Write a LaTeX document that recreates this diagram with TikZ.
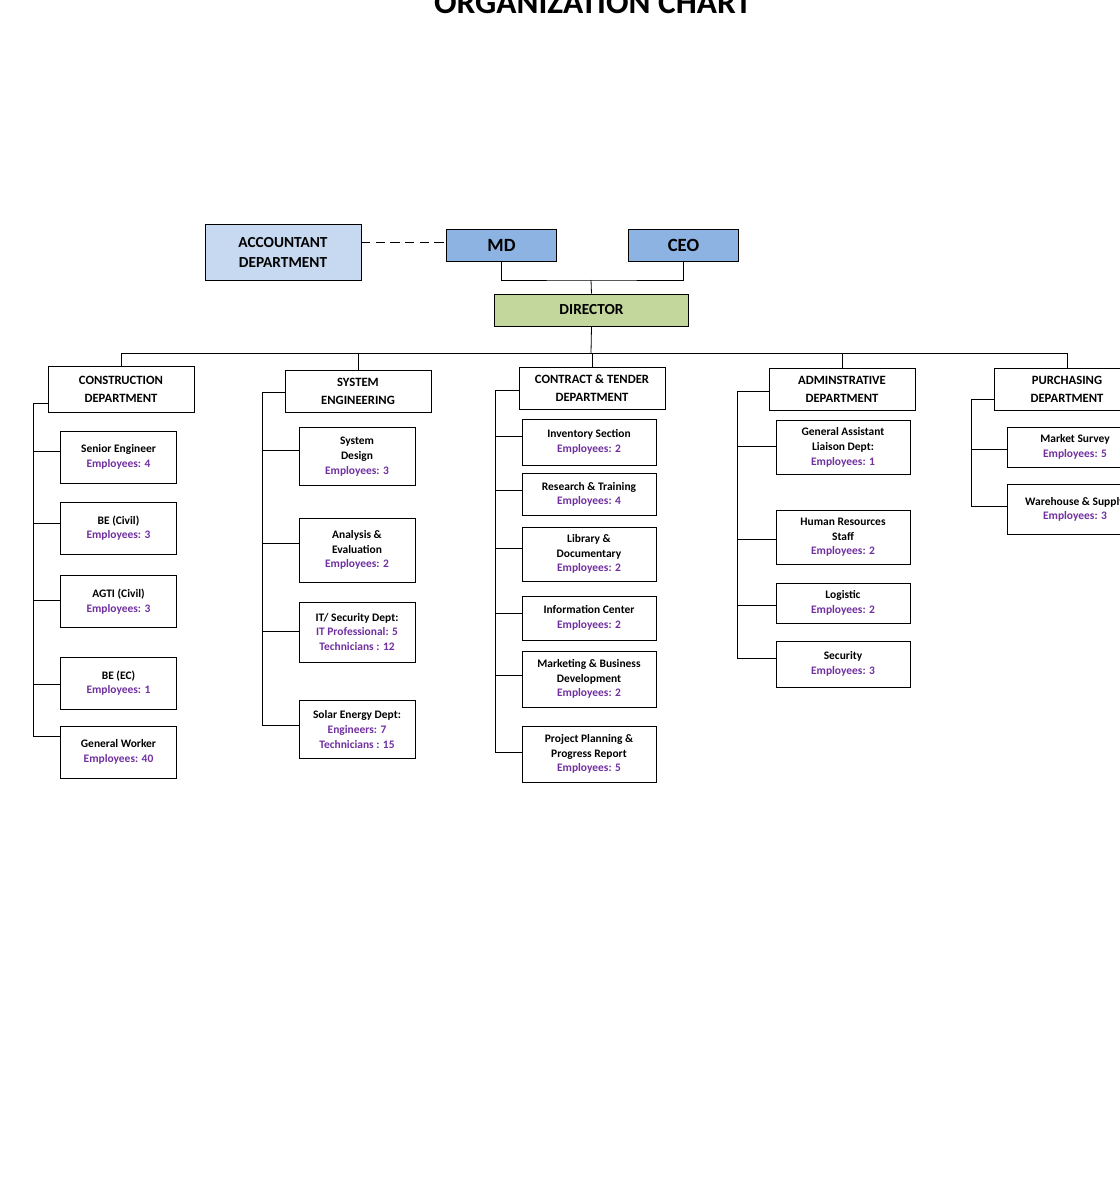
\documentclass[tikz,border=0pt]{standalone}
\usepackage{fontspec}
\setmainfont{Carlito}
\usepackage{tikz}
\usetikzlibrary{calc}
\definecolor{acc}{HTML}{C6D9F1}
\definecolor{top}{HTML}{8DB3E2}
\definecolor{dirc}{HTML}{C3D69B}
\definecolor{emp}{HTML}{7030A0}
\newcommand{\staff}[1]{\\\textcolor{emp}{#1}}
\tikzset{
  box/.style={draw, line width=0.6pt, align=center, inner sep=1pt},
  head/.style={box, font=\bfseries\fontsize{14}{15}\selectfont},
  dept/.style={box, minimum width=109.5pt, font=\bfseries\fontsize{9.5}{13.5}\selectfont},
  leaf/.style={box, font=\bfseries\fontsize{8.6}{11}\selectfont},
  link/.style={line width=0.6pt}
}
\begin{document}
\begin{tikzpicture}[x=0.75pt,y=-0.75pt]
        \useasboundingbox (0,0) rectangle (1120,1200);
        \node[anchor=base, font=\bfseries\fontsize{25}{25}\selectfont] (title) at (593,13) {ORGANIZATION CHART};
        % top level
        \node[head, fill=acc, minimum width=117pt, minimum height=42pt, font=\bfseries\fontsize{11.5}{15}\selectfont] (acc) at (283,252) {ACCOUNTANT\\DEPARTMENT};
        \node[head, fill=top, minimum width=82pt, minimum height=24pt] (md) at (501.5,245) {MD};
        \node[head, fill=top, minimum width=82pt, minimum height=24pt] (ceo) at (683.5,245) {CEO};
        \node[head, fill=dirc, minimum width=145pt, minimum height=24pt, font=\bfseries\fontsize{11.5}{13}\selectfont] (dir) at (591.5,310) {DIRECTOR};
        \coordinate (acclink) at (361,242);
        \draw[link, dashed, dash pattern=on 7pt off 4pt] (acclink) -- (md.west |- acclink);
        \coordinate (join) at (591,280);
        \draw[link] (md.south) |- (join) -| (ceo.south);
        \draw[link] (join) -- (dir.north);
        % departments
        \node[dept, minimum height=35pt] (con) at (121,389.5) {CONSTRUCTION\\DEPARTMENT};
        \node[dept, minimum height=31.5pt] (sys) at (358,391) {SYSTEM\\ENGINEERING};
        \node[dept, minimum height=32pt] (ct) at (592,388.5) {CONTRACT \& TENDER\\DEPARTMENT};
        \node[dept, minimum height=32pt] (adm) at (842,389.5) {ADMINSTRATIVE\\DEPARTMENT};
        \node[dept, minimum height=32pt] (pur) at (1067,389.5) {PURCHASING\\DEPARTMENT};
        \coordinate (bus) at (591,353);
        \draw[link] (dir.south) -- (bus);
        \draw[link] (con.north |- bus) -- (pur.north |- bus);
        \foreach \d in {con,sys,ct,adm,pur}
            \draw[link] (\d.north |- bus) -- (\d.north);
        % construction
        \begin{scope}[leaf/.append style={minimum width=87pt}]
            \node[leaf, minimum height=39pt] (se) at (118.5,457) {Senior Engineer\staff{Employees: 4}};
            \node[leaf, minimum height=39pt] (bc) at (118.5,528) {BE (Civil)\staff{Employees: 3}};
            \node[leaf, minimum height=39.5pt] (ag) at (118.5,601.5) {AGTI (Civil)\staff{Employees: 3}};
            \node[leaf, minimum height=39pt] (be) at (118.5,683) {BE (EC)\staff{Employees: 1}};
            \node[leaf, minimum height=39pt] (gw) at (118.5,752) {General Worker\staff{Employees: 40}};
        \end{scope}
        \coordinate (cs) at (33,403);
        \draw[link] (con.west |- cs) -- (cs) -- (33,736);
        \foreach \c/\y in {se/451,bc/523,ag/600,be/684,gw/736}
            \draw[link] (33,\y) -- (\c.west |- 0,\y);
        % system engineering
        \begin{scope}[leaf/.append style={minimum width=87pt}]
            \node[leaf, minimum height=44pt] (sd) at (357,456.5) {System\\Design\staff{Employees: 3}};
            \node[leaf, minimum height=48pt] (ae) at (357,550) {Analysis \&\\Evaluation\staff{Employees: 2}};
            \node[leaf, minimum height=45pt] (it) at (357,632) {IT/ Security Dept:\staff{IT Professional: 5}\staff{Technicians : 12}};
            \node[leaf, minimum height=43pt] (sol) at (357,729.5) {Solar Energy Dept:\staff{Engineers: 7}\staff{Technicians : 15}};
        \end{scope}
        \coordinate (ss) at (262,392);
        \draw[link] (sys.west |- ss) -- (ss) -- (262,725);
        \foreach \c/\y in {sd/450,ae/543,it/631,sol/725}
            \draw[link] (262,\y) -- (\c.west |- 0,\y);
        % contract & tender
        \begin{scope}[leaf/.append style={minimum width=100.5pt}]
            \node[leaf, minimum height=34.5pt] (inv) at (589,442) {Inventory Section\staff{Employees: 2}};
            \node[leaf, minimum height=31pt] (rt) at (589,494.5) {Research \& Training\staff{Employees: 4}};
            \node[leaf, minimum height=40.5pt] (lib) at (589,554) {Library \&\\Documentary\staff{Employees: 2}};
            \node[leaf, minimum height=33pt] (ic) at (589,618) {Information Center\staff{Employees: 2}};
            \node[leaf, minimum height=42pt] (mb) at (589,679) {Marketing \& Business\\Development\staff{Employees: 2}};
            \node[leaf, minimum height=42pt] (pp) at (589,754) {Project Planning \&\\Progress Report\staff{Employees: 5}};
        \end{scope}
        \coordinate (cts) at (495,390);
        \draw[link] (ct.west |- cts) -- (cts) -- (495,752);
        \foreach \c/\y in {inv/436,rt/490,lib/548,ic/613,mb/675,pp/752}
            \draw[link] (495,\y) -- (\c.west |- 0,\y);
        % adminstrative
        \begin{scope}[leaf/.append style={minimum width=100.5pt}]
            \node[leaf, minimum height=41pt] (ga) at (843,447.5) {General Assistant\\Liaison Dept:\staff{Employees: 1}};
            \node[leaf, minimum height=41pt] (hr) at (843,537.5) {Human Resources\\Staff\staff{Employees: 2}};
            \node[leaf, minimum height=30pt] (log) at (843,603) {Logistic\staff{Employees: 2}};
            \node[leaf, minimum height=34.5pt] (sec) at (843,664) {Security\staff{Employees: 3}};
        \end{scope}
        \coordinate (as) at (737,391);
        \draw[link] (adm.west |- as) -- (as) -- (737,658);
        \foreach \c/\y in {ga/446,hr/539,log/605,sec/658}
            \draw[link] (737,\y) -- (\c.west |- 0,\y);
        % purchasing
        \begin{scope}[leaf/.append style={minimum width=102pt}]
            \node[leaf, minimum height=30pt] (ms) at (1075,447) {Market Survey\staff{Employees: 5}};
            \node[leaf, minimum height=38pt] (wh) at (1075,509.5) {Warehouse \& Supply\staff{Employees: 3}};
        \end{scope}
        \coordinate (ps) at (971,399);
        \draw[link] (pur.west |- ps) -- (ps) -- (971,506);
        \foreach \c/\y in {ms/449,wh/506}
            \draw[link] (971,\y) -- (\c.west |- 0,\y);
    \end{tikzpicture}
\end{document}
